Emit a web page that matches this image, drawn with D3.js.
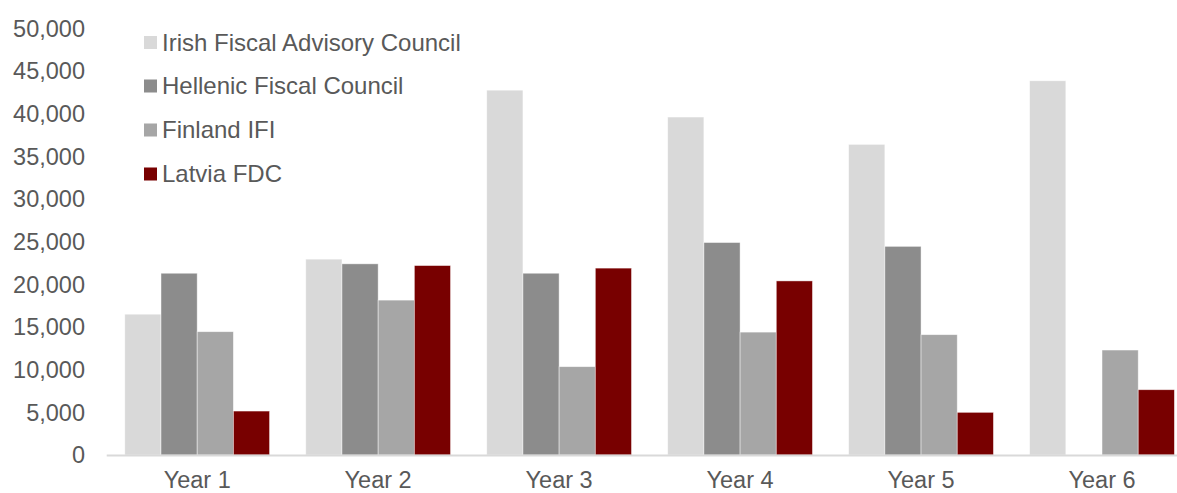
<!DOCTYPE html>
<html>
<head>
<meta charset="utf-8">
<script src="https://cdn.jsdelivr.net/npm/d3@7"></script>
<style>
  html, body { margin: 0; padding: 0; background: #fff; }
  svg { display: block; }
  text { font-family: "Liberation Sans", Arial, sans-serif; fill: #595959; }
</style>
</head>
<body>
<svg id="chart" width="1177" height="493"></svg>
<script>
const categories = ["Year 1", "Year 2", "Year 3", "Year 4", "Year 5", "Year 6"];
const seriesNames = ["Irish Fiscal Advisory Council", "Hellenic Fiscal Council", "Finland IFI", "Latvia FDC"];
const irish    = [16500, 22950, 42750, 39600, 36400, 43850];
const hellenic = [21300, 22400, 21300, 24900, 24450, null];
const finland  = [14450, 18150, 10350, 14400, 14100, 12300];
const latvia   = [5150, 22200, 21900, 20400, 5000, 7650];
const yTicks = [0, 5000, 10000, 15000, 20000, 25000, 30000, 35000, 40000, 45000, 50000];
const colors = ["#d9d9d9", "#8c8c8c", "#a6a6a6", "#780000"];

const seriesValues = [irish, hellenic, finland, latvia];

const svg = d3.select("#chart");
const W = 1177, H = 493;
const x0 = 106.7, x1 = 1192.5, yBottom = 455, yTop = 28.3;

const x = d3.scaleBand().domain(categories).range([x0, x1]).paddingInner(0.2).paddingOuter(0.1);
const xs = d3.scaleBand().domain(seriesNames).range([0, x.bandwidth()]).padding(0);
const y = d3.scaleLinear().domain([0, 50000]).range([yBottom, yTop]);

const FS = "23.5px";

// bars
const groups = svg.append("g").selectAll("g")
  .data(categories).join("g")
  .attr("transform", d => `translate(${x(d)},0)`);

groups.selectAll("rect")
  .data((c, i) => seriesNames.map((s, j) => ({ s, j, v: seriesValues[j][i] })).filter(d => d.v != null))
  .join("rect")
  .attr("x", d => xs(d.s))
  .attr("width", xs.bandwidth())
  .attr("y", d => y(d.v))
  .attr("height", d => y(0) - y(d.v))
  .attr("fill", d => colors[d.j])
  .attr("stroke", "#ffffff")
  .attr("stroke-opacity", 0.6)
  .attr("stroke-width", 0.75);

// y axis (labels only)
const yAxis = d3.axisLeft(y).tickValues(yTicks).tickFormat(d3.format(",")).tickSize(0).tickPadding(0);
const gy = svg.append("g").attr("transform", "translate(85,0)").call(yAxis);
gy.select(".domain").remove();
gy.selectAll("text").style("font-size", FS).attr("fill", "#595959")
  .attr("font-family", "Liberation Sans, Arial, sans-serif").attr("dy", "0.33em");

// x axis
const xAxis = d3.axisBottom(x).tickSize(0).tickPadding(0);
const gx = svg.append("g").attr("transform", `translate(0,${yBottom})`).call(xAxis);
gx.select(".domain").attr("stroke", "#d9d9d9").attr("stroke-width", 2)
  .attr("d", `M${x0},0.5H${W}`);
gx.selectAll("text").style("font-size", FS).attr("fill", "#595959")
  .attr("font-family", "Liberation Sans, Arial, sans-serif").attr("y", 32.5).attr("dy", 0);

// legend
const legend = svg.append("g");
const ly = [42.5, 86, 130, 174];
seriesNames.forEach((s, i) => {
  legend.append("rect").attr("x", 144).attr("y", ly[i] - 6.5).attr("width", 13).attr("height", 13).attr("fill", colors[i]);
  legend.append("text").attr("x", 162).attr("y", ly[i]).attr("dy", "0.35em").style("font-size", "24px").text(s);
});
</script>
</body>
</html>
